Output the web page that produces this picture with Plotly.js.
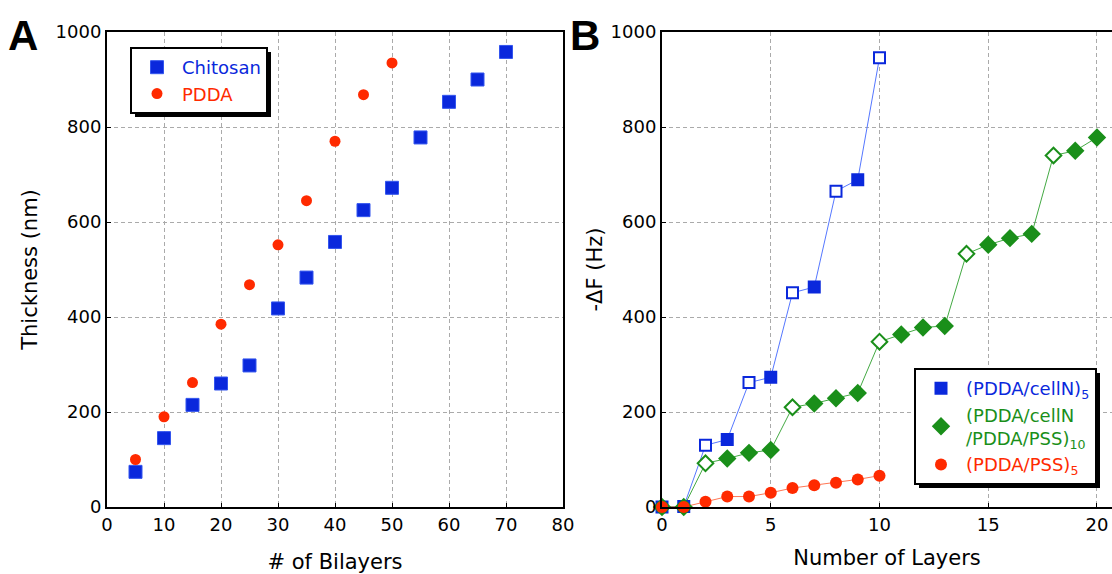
<!DOCTYPE html>
<html>
<head>
<meta charset="utf-8">
<script src="https://cdn.plot.ly/plotly-3.0.1.min.js"></script>
<style>html,body{margin:0;padding:0;background:#fff;}#chart{width:1112px;height:574px;}</style>
</head>
<body>
<div id="chart"></div>
<script>
// Panel A data
const bilayersChitosan = [5, 10, 15, 20, 25, 30, 35, 40, 45, 50, 55, 60, 65, 70];
const thicknessChitosan = [74, 145, 215, 260, 298, 418, 483, 558, 625, 672, 778, 853, 900, 958];
const bilayersPDDA = [5, 10, 15, 20, 25, 30, 35, 40, 45, 50];
const thicknessPDDA = [100, 190, 262, 385, 468, 552, 645, 770, 868, 935];

// Panel B data
const layersCellN = [0, 1, 2, 3, 4, 5, 6, 7, 8, 9, 10];
const dfCellN = [0, 1, 130, 142, 262, 273, 451, 463, 665, 689, 946];
const openCellN = [0, 0, 1, 0, 1, 0, 1, 0, 1, 0, 1];

const layersMixed = [0, 1, 2, 3, 4, 5, 6, 7, 8, 9, 10, 11, 12, 13, 14, 15, 16, 17, 18, 19, 20];
const dfMixed = [0, 0, 92, 102, 114, 120, 210, 218, 229, 240, 348, 363, 378, 381, 533, 552, 566, 575, 740, 750, 778];
const openMixed = [0, 0, 1, 0, 0, 0, 1, 0, 0, 0, 1, 0, 0, 0, 1, 0, 0, 0, 1, 0, 0];

const layersPSS = [0, 1, 2, 3, 4, 5, 6, 7, 8, 9, 10];
const dfPSS = [0, 0, 11, 22, 22, 30, 40, 46, 51, 58, 66];

const xTicksA = [0, 10, 20, 30, 40, 50, 60, 70, 80];
const xTicksB = [0, 5, 10, 15, 20];
const yTicks = [0, 200, 400, 600, 800, 1000];

const BLUE = '#0a28dc', RED = '#ff2a00', GREEN = '#1a8f1a';
const FONT = 'DejaVu Sans, Liberation Sans, sans-serif';
const W = 1112, H = 574;
const px = v => v / W, py = v => 1 - v / H;

const fillFor = (flags, c) => flags.map(f => f ? '#ffffff' : c);

const traces = [
  {x: bilayersChitosan, y: thicknessChitosan, type: 'scatter', mode: 'markers',
   name: '<span style="color:' + BLUE + '">Chitosan</span>', xaxis: 'x', yaxis: 'y', legend: 'legend',
   marker: {symbol: 'square', size: 13, color: BLUE, line: {color: '#3355ee', width: 1}}, cliponaxis: false},
  {x: bilayersPDDA, y: thicknessPDDA, type: 'scatter', mode: 'markers',
   name: '<span style="color:' + RED + '">PDDA</span>', xaxis: 'x', yaxis: 'y', legend: 'legend',
   marker: {symbol: 'circle', size: 11, color: RED}, cliponaxis: false},
  // connecting lines (panel B)
  {x: layersCellN, y: dfCellN, type: 'scatter', mode: 'lines', showlegend: false, hoverinfo: 'skip',
   xaxis: 'x2', yaxis: 'y2', line: {color: '#5577ff', width: 1}, cliponaxis: false},
  {x: layersMixed, y: dfMixed, type: 'scatter', mode: 'lines', showlegend: false, hoverinfo: 'skip',
   xaxis: 'x2', yaxis: 'y2', line: {color: '#44aa44', width: 1}, cliponaxis: false},
  {x: layersPSS, y: dfPSS, type: 'scatter', mode: 'lines', showlegend: false, hoverinfo: 'skip',
   xaxis: 'x2', yaxis: 'y2', line: {color: '#ff7755', width: 1}, cliponaxis: false},
  // markers (panel B)
  {x: layersCellN, y: dfCellN, type: 'scatter', mode: 'markers',
   name: '<span style="color:' + BLUE + '">(PDDA/cellN)<sub>5</sub></span>', xaxis: 'x2', yaxis: 'y2', legend: 'legend2',
   marker: {symbol: 'square', size: 11, color: fillFor(openCellN, BLUE), line: {color: BLUE, width: 2}}, cliponaxis: false},
  {x: layersMixed, y: dfMixed, type: 'scatter', mode: 'markers',
   name: '<span style="color:' + GREEN + '">(PDDA/cellN<br>/PDDA/PSS)<sub>10</sub></span>', xaxis: 'x2', yaxis: 'y2', legend: 'legend2',
   marker: {symbol: 'diamond', size: 12, color: fillFor(openMixed, GREEN), line: {color: GREEN, width: 2}}, cliponaxis: false},
  {x: layersPSS, y: dfPSS, type: 'scatter', mode: 'markers',
   name: '<span style="color:' + RED + '">(PDDA/PSS)<sub>5</sub></span>', xaxis: 'x2', yaxis: 'y2', legend: 'legend2',
   marker: {symbol: 'circle', size: 12, color: RED}, cliponaxis: false}
];

const axCommon = {
  showline: true, linecolor: '#000', linewidth: 2,
  showgrid: true, gridcolor: '#aaa', griddash: '4px,3px', gridwidth: 1,
  zeroline: false, ticks: 'inside', ticklen: 4, tickcolor: '#000',
  tickfont: {family: FONT, size: 18, color: '#000'},
  automargin: false
};

const layout = {
  width: W, height: H,
  margin: {l: 0, r: 0, t: 0, b: 0},
  paper_bgcolor: '#fff', plot_bgcolor: '#fff',
  font: {family: FONT, color: '#000'},
  showlegend: true,
  xaxis: Object.assign({}, axCommon, {
    domain: [px(107), px(563)], anchor: 'y', range: [0, 80], tickvals: xTicksA, mirror: true,
    title: {text: '# of Bilayers', font: {family: FONT, size: 21}, standoff: 24}
  }),
  yaxis: Object.assign({}, axCommon, {
    domain: [py(507), py(32)], anchor: 'x', range: [0, 1000], tickvals: yTicks, mirror: true,
    title: {text: 'Thickness (nm)', font: {family: FONT, size: 21}, standoff: 12}
  }),
  xaxis2: Object.assign({}, axCommon, {
    domain: [px(662), 1], anchor: 'y2', range: [0, 20.69], tickvals: xTicksB, mirror: true,
    title: {text: 'Number of Layers', font: {family: FONT, size: 21}, standoff: 17}
  }),
  yaxis2: Object.assign({}, axCommon, {
    domain: [py(507), py(32)], anchor: 'x2', range: [0, 1000], tickvals: yTicks, mirror: false,
    title: {text: '-ΔF (Hz)', font: {family: FONT, size: 21}, standoff: 2}
  }),
  legend: {
    x: px(130), y: py(47), xanchor: 'left', yanchor: 'top',
    bgcolor: '#fff', bordercolor: '#000', borderwidth: 2, itemwidth: 40,
    font: {family: FONT, size: 18}, itemsizing: 'trace', tracegroupgap: 0
  },
  legend2: {
    x: px(914), y: py(368), xanchor: 'left', yanchor: 'top',
    bgcolor: '#fff', bordercolor: '#000', borderwidth: 2, itemwidth: 40,
    font: {family: FONT, size: 18}, itemsizing: 'trace', tracegroupgap: 0
  },
  annotations: [
    {text: '<b>A</b>', xref: 'paper', yref: 'paper', x: px(6), y: py(10), xanchor: 'left', yanchor: 'top',
     showarrow: false, font: {family: 'Liberation Sans, Arial, sans-serif', size: 42, color: '#000'}},
    {text: '<b>B</b>', xref: 'paper', yref: 'paper', x: px(568), y: py(10), xanchor: 'left', yanchor: 'top',
     showarrow: false, font: {family: 'Liberation Sans, Arial, sans-serif', size: 42, color: '#000'}}
  ]
};

Plotly.newPlot('chart', traces, layout, {displayModeBar: false, staticPlot: true}).then(gd => {
  // drop shadows behind each legend box
  const host = gd.getBoundingClientRect();
  const shapes = [];
  gd.querySelectorAll('g.legend rect.bg, g.legend2 rect.bg').forEach(r => {
    const b = r.getBoundingClientRect();
    const off = 4;
    shapes.push({type: 'rect', xref: 'paper', yref: 'paper',
      x0: px(b.left - host.left + off), x1: px(b.right - host.left + off),
      y0: py(b.bottom - host.top + off), y1: py(b.top - host.top + off),
      fillcolor: '#000', line: {width: 0}, layer: 'above'});
  });
  return Plotly.relayout(gd, {shapes: shapes});
});
</script>
</body>
</html>
